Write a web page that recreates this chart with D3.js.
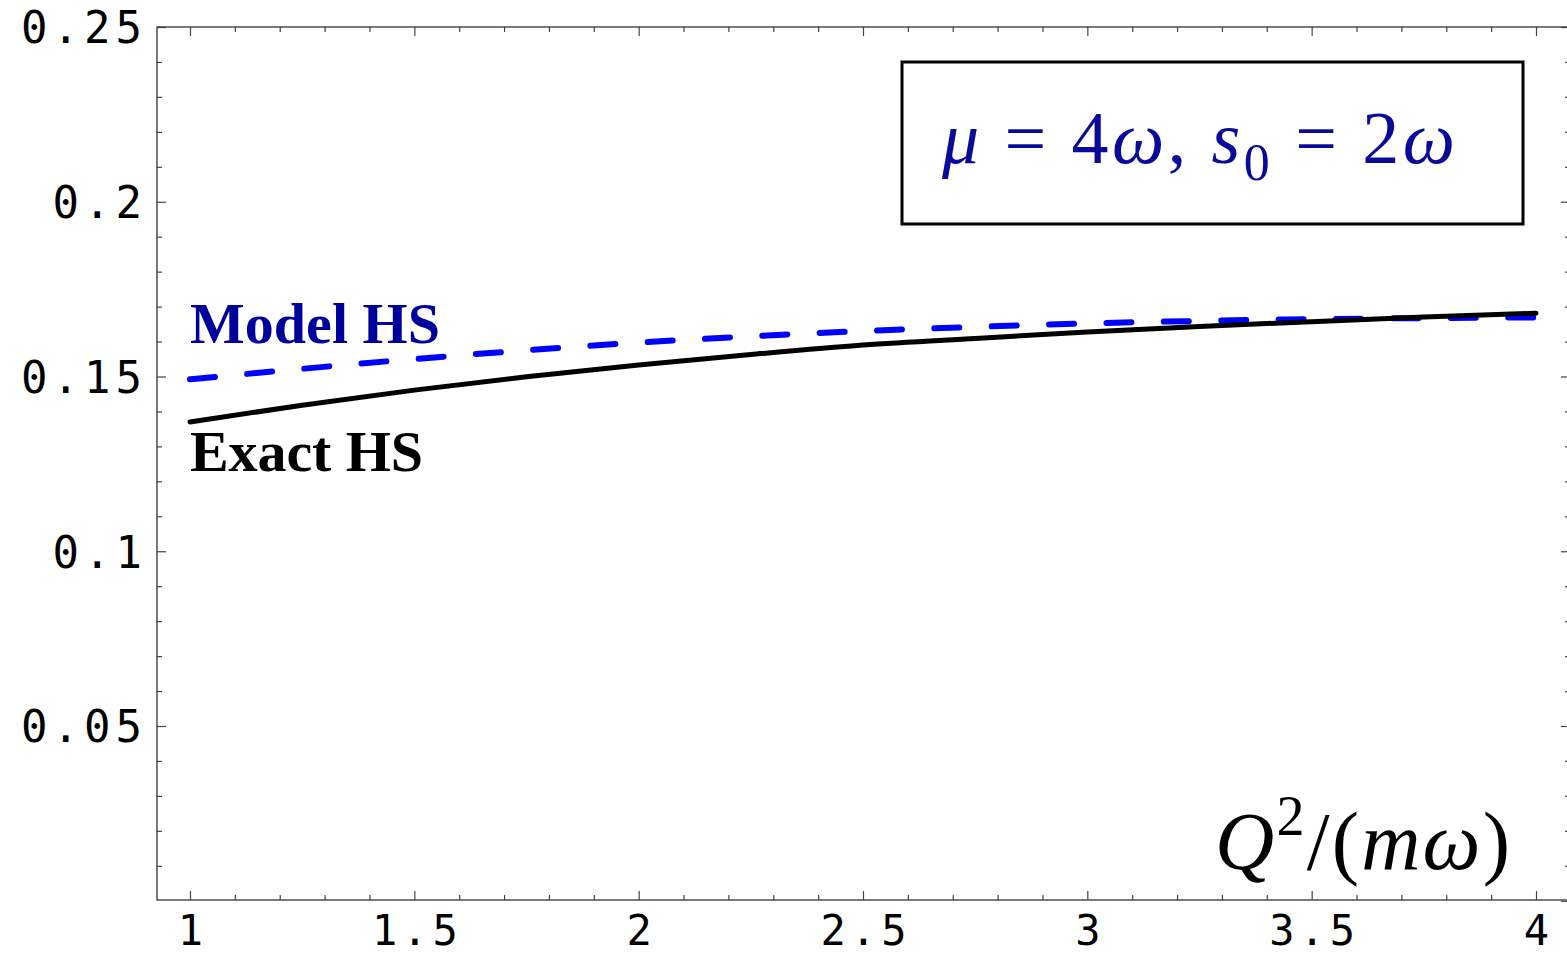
<!DOCTYPE html>
<html>
<head>
<meta charset="utf-8">
<script src="https://cdn.jsdelivr.net/npm/d3@7"></script>
<style>
  html, body { margin: 0; padding: 0; background: #fff; }
  svg { display: block; }
</style>
</head>
<body>
<svg id="chart" width="1567" height="954"></svg>
<script>
// ── Datos ──
const q2 = [1, 1.25, 1.5, 1.75, 2, 2.25, 2.5, 2.75, 3, 3.25, 3.5, 3.75, 4];
const exactHS = [0.1370, 0.1418, 0.1461, 0.1499, 0.1533, 0.1563, 0.1590, 0.1609, 0.1627, 0.1643, 0.1657, 0.1670, 0.1681];
const modelHS = [0.1492, 0.1522, 0.1550, 0.1575, 0.1597, 0.1615, 0.1630, 0.1642, 0.1652, 0.1659, 0.1664, 0.1667, 0.1669];

const xTicks = [1, 1.5, 2, 2.5, 3, 3.5, 4];
const xTickLabels = ["1", "1.5", "2", "2.5", "3", "3.5", "4"];
const yTicks = [0.05, 0.1, 0.15, 0.2, 0.25];
const yTickLabels = ["0.05", "0.1", "0.15", "0.2", "0.25"];

const svg = d3.select("#chart");

// ── Escalas ──
const x = d3.scaleLinear().domain([1, 4]).range([190, 1536]);
const y = d3.scaleLinear().domain([0, 0.25]).range([900.75, 27]);

const frame = { left: 157, right: 1570, top: 27, bottom: 900 };

const xMinor = d3.range(10, 41).map(i => i / 10).filter(v => !xTicks.some(t => Math.abs(t - v) < 1e-9));
const yMinor = d3.range(1, 25).map(i => i / 100).filter(v => !yTicks.some(t => Math.abs(t - v) < 1e-9));

const TICK_COLOR = "#444";
const monoFont = "'DejaVu Sans Mono', monospace";

function styleAxis(g) {
  g.select(".domain").remove();
  g.selectAll(".tick line").attr("stroke", TICK_COLOR).attr("stroke-width", 1.2);
}

// ── Ejes abajo / arriba ──
svg.append("g").attr("transform", `translate(0,${frame.bottom})`)
  .call(d3.axisBottom(x).tickValues(xMinor).tickSizeInner(-5).tickSizeOuter(0).tickFormat(""))
  .call(styleAxis);

svg.append("g").attr("transform", `translate(0,${frame.bottom})`)
  .call(d3.axisBottom(x).tickValues(xTicks).tickSizeInner(-9).tickSizeOuter(0).tickPadding(15)
    .tickFormat((d, i) => xTickLabels[i]))
  .call(styleAxis)
  .call(g => g.selectAll("text")
    .attr("font-family", monoFont).attr("font-size", 42)
    .attr("letter-spacing", 5).attr("dx", 2.5)
    .attr("fill", "#000"));

svg.append("g").attr("transform", `translate(0,${frame.top})`)
  .call(d3.axisTop(x).tickValues(xMinor).tickSizeInner(-5).tickSizeOuter(0).tickFormat(""))
  .call(styleAxis);
svg.append("g").attr("transform", `translate(0,${frame.top})`)
  .call(d3.axisTop(x).tickValues(xTicks).tickSizeInner(-9).tickSizeOuter(0).tickFormat(""))
  .call(styleAxis);

// ── Ejes izquierda / derecha ──
svg.append("g").attr("transform", `translate(${frame.left},0)`)
  .call(d3.axisLeft(y).tickValues(yMinor).tickSizeInner(-5).tickSizeOuter(0).tickFormat(""))
  .call(styleAxis);

svg.append("g").attr("transform", `translate(${frame.left},0)`)
  .call(d3.axisLeft(y).tickValues(yTicks).tickSizeInner(-9).tickSizeOuter(0).tickPadding(10)
    .tickFormat((d, i) => yTickLabels[i]))
  .call(styleAxis)
  .call(g => g.selectAll("text")
    .attr("font-family", monoFont).attr("font-size", 44)
    .attr("letter-spacing", 5).attr("dy", "0.36em")
    .attr("fill", "#000"));

svg.append("g").attr("transform", `translate(${frame.right},0)`)
  .call(d3.axisRight(y).tickValues(yMinor).tickSizeInner(-5).tickSizeOuter(0).tickFormat(""))
  .call(styleAxis);
svg.append("g").attr("transform", `translate(${frame.right},0)`)
  .call(d3.axisRight(y).tickValues([0].concat(yTicks)).tickSizeInner(-9).tickSizeOuter(0).tickFormat(""))
  .call(styleAxis);

// Marco
svg.append("rect")
  .attr("x", frame.left).attr("y", frame.top)
  .attr("width", frame.right - frame.left).attr("height", frame.bottom - frame.top)
  .attr("fill", "none").attr("stroke", "#333").attr("stroke-width", 1.3);

// ── Curvas ──
const line = d3.line()
  .x((d, i) => x(q2[i]))
  .y(d => y(d))
  .curve(d3.curveMonotoneX);

svg.append("path").datum(modelHS)
  .attr("d", line)
  .attr("fill", "none")
  .attr("stroke", "#0000ff")
  .attr("stroke-width", 6)
  .attr("stroke-linecap", "round")
  .attr("stroke-dasharray", "25,32.4");

svg.append("path").datum(exactHS)
  .attr("d", line)
  .attr("fill", "none")
  .attr("stroke", "#000")
  .attr("stroke-width", 5)
  .attr("stroke-linecap", "round");

// ── Etiquetas de curvas ──
const serif = "'Liberation Serif', 'Times New Roman', serif";

svg.append("text")
  .attr("x", x(1)).attr("y", 343)
  .attr("font-family", serif)
  .attr("font-weight", "bold").attr("font-size", 58)
  .attr("fill", "#00009a")
  .attr("textLength", 250).attr("lengthAdjust", "spacing")
  .text("Model HS");

svg.append("text")
  .attr("x", x(1)).attr("y", 471)
  .attr("font-family", serif)
  .attr("font-weight", "bold").attr("font-size", 58)
  .attr("fill", "#000")
  .attr("textLength", 233).attr("lengthAdjust", "spacing")
  .text("Exact HS");

// ── Caja de parámetros ──
svg.append("rect")
  .attr("x", 902).attr("y", 62).attr("width", 621).attr("height", 162)
  .attr("fill", "#fff").attr("stroke", "#000").attr("stroke-width", 3);

const param = svg.append("text")
  .attr("x", 942).attr("y", 163)
  .attr("font-family", serif).attr("font-size", 74)
  .attr("fill", "#0a0a9a")
  .attr("textLength", 513).attr("lengthAdjust", "spacing");
param.append("tspan").attr("font-style", "italic").text("μ");
param.append("tspan").text(" = 4");
param.append("tspan").attr("font-style", "italic").text("ω");
param.append("tspan").text(", ");
param.append("tspan").attr("font-style", "italic").text("s");
param.append("tspan").attr("font-size", 52).attr("dy", 17).text("0");
param.append("tspan").attr("dy", -17).text(" = 2");
param.append("tspan").attr("font-style", "italic").text("ω");

// ── Título eje X ──
const xt = svg.append("text")
  .attr("x", 1215).attr("y", 869)
  .attr("font-family", serif).attr("font-size", 82)
  .attr("fill", "#000")
  .attr("textLength", 295).attr("lengthAdjust", "spacing");
xt.append("tspan").attr("font-style", "italic").text("Q");
xt.append("tspan").attr("font-size", 56).attr("dy", -34).text("2");
xt.append("tspan").attr("dy", 34).text("/(");
xt.append("tspan").attr("font-style", "italic").text("mω");
xt.append("tspan").text(")");
</script>
</body>
</html>
